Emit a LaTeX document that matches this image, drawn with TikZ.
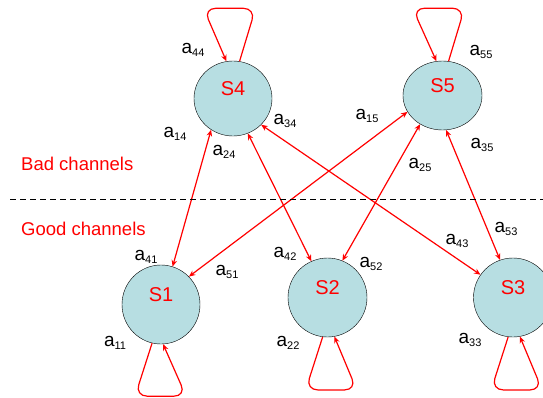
\documentclass[tikz,border=0pt]{standalone}
\usepackage{fontspec}
\setmainfont{Liberation Sans}
\usetikzlibrary{arrows.meta,shapes.geometric}
\definecolor{stfill}{RGB}{183,222,226}
\newcommand{\aij}[1]{a\raisebox{-3pt}{\fontsize{11}{12}\selectfont #1}}

\begin{document}
\begin{tikzpicture}[x=1pt,y=-1pt,>={Stealth[length=6.5pt,width=5.5pt]}]
\useasboundingbox (0,0) rectangle (543,398);
\clip (0,0) rectangle (543,398);
\foreach \x/\y/\n/\w/\h in {161/304.5/1/78/79, 327.5/297.5/2/79/79, 513/297.5/3/79/79, 233/98.5/4/78/75, 442.5/95.5/5/79/69}
  \node[ellipse,draw,fill=stfill,inner sep=0pt,minimum width=\w,minimum height=\h,text=red,font=\fontsize{20}{21}\selectfont,text height=14pt,text depth=20pt] (s\n) at (\x,\y) {S\n};
\foreach \s/\t in {s4.235/s1.73, s4.293/s2.114, s4.317/s3.145, s5.205/s1.45, s5.232/s2.68, s5.276/s3.109}
  \draw[red,line width=1.2pt,<->] (\s) -- (\t);
% self loops
\foreach \n in {4,5}
  \draw[red,line width=1.2pt,->,rounded corners=12pt] (s\n.80) -- ++(16,-53) -- ++(-52,0) -- (s\n.100);
\foreach \n/\p/\q in {1/257/273, 2/263/280, 3/263/280}
  \draw[red,line width=1.2pt,->,rounded corners=12pt] (s\n.\p) -- ++(-17,53) -- ++(51,0) -- (s\n.\q);
\foreach \x/\y/\n in {193/50/44, 175/134/14, 224/152/24, 285/121/34, 481/52/55, 367/116/15, 420/165/25, 482/145/35, 146/257/41, 227/272/51, 115/343/11, 285/254/42, 371/264/52, 457/241/43, 506/229/53, 288/343/22, 470/340/33}
  \node[inner sep=0pt,font=\fontsize{19}{20}\selectfont] (a\n) at (\x,\y) {\aij{\n}};
\coordinate (dl) at (10,199);
\coordinate (dr) at (543,199);
\draw[dash pattern=on 6pt off 4pt] (dl) -- (dr);
\node[red,anchor=base west,inner sep=0pt,font=\fontsize{18.5}{20}\selectfont] (bad) at (21,171) {Bad channels};
\node[red,anchor=base west,inner sep=0pt,font=\fontsize{18.5}{20}\selectfont] (good) at (21,235) {Good channels};
\end{tikzpicture}
\end{document}
